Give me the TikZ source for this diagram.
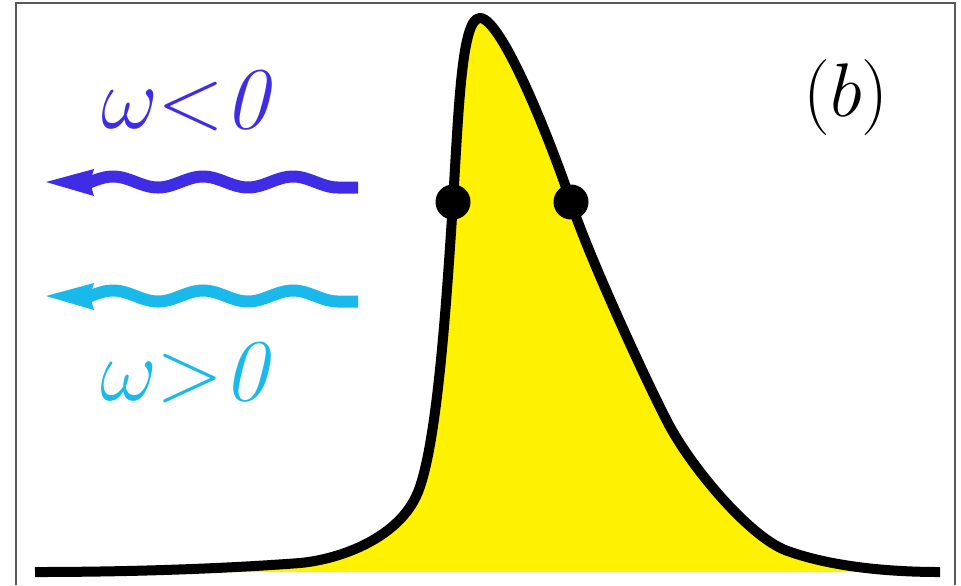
\RequirePackage{fix-cm}
\documentclass[tikz,border=0pt]{standalone}
\usetikzlibrary{calc}
\definecolor{wneg}{RGB}{62,45,228}
\definecolor{wpos}{RGB}{25,185,235}
\tikzstyle{curve} = [line width=5pt, line join=round]
\tikzstyle{wave} = [line width=6pt]
\tikzstyle{frame} = [gray!70!black, line width=1pt]
\tikzstyle{dot} = [circle, fill=black, inner sep=0pt, minimum size=17.5pt]
\tikzstyle{wlabel} = [anchor=base, inner sep=0pt, font=\fontsize{44}{50}\selectfont]
% the line profile, left tail to right tail
\newcommand{\peakline}{(35,572) .. controls (125,572) and (220,569) .. (300,563)
  .. controls (342,559) and (400,537) .. (418,492)
  .. controls (438,442) and (447,292) .. (453,202)
  .. controls (459,102) and (462,18) .. (480,18)
  .. controls (502,18) and (552,145) .. (571,202)
  .. controls (586,250) and (645,379) .. (668,423)
  .. controls (691,467) and (748,535) .. (785,550)
  .. controls (825,565) and (880,572) .. (940,572)}

\begin{document}
\begin{tikzpicture}[x=0.5pt, y=-0.5pt]
	\useasboundingbox (0,0) rectangle (961,585);

	%% frame of the panel
	\draw[frame] (16,585) -- (16,3) -- (955,3) -- (955,585);

	%% the peak, filled, then its outline
	\fill[yellow] \peakline -- cycle;
	\draw[curve] \peakline;

	\node[dot] (dotL) at (453,202) {};
	\node[dot] (dotR) at (571,202) {};

	%% wavy arrows
	\foreach \yy/\col in {0/wneg, 114/wpos} {
		\fill[\col] (46,{182+\yy}) -- (94,{169+\yy}) -- (90,{182+\yy}) -- (94,{196+\yy}) -- cycle;
		\draw[wave, \col] plot[domain=89:338, samples=80] (\x, {182+\yy-5.5*cos(4*(\x-113))})
			-- (358,{187.5+\yy});
	}

	\node[wlabel, wneg] (lneg) at (191,128) {$\omega{<}\mathit{0}$};
	\node[wlabel, wpos] (lpos) at (190,400) {$\omega{>}\mathit{0}$};
	\node[wlabel, font=\fontsize{38}{44}\selectfont] (panel) at (846,116) {$(b)$};
\end{tikzpicture}
\end{document}
